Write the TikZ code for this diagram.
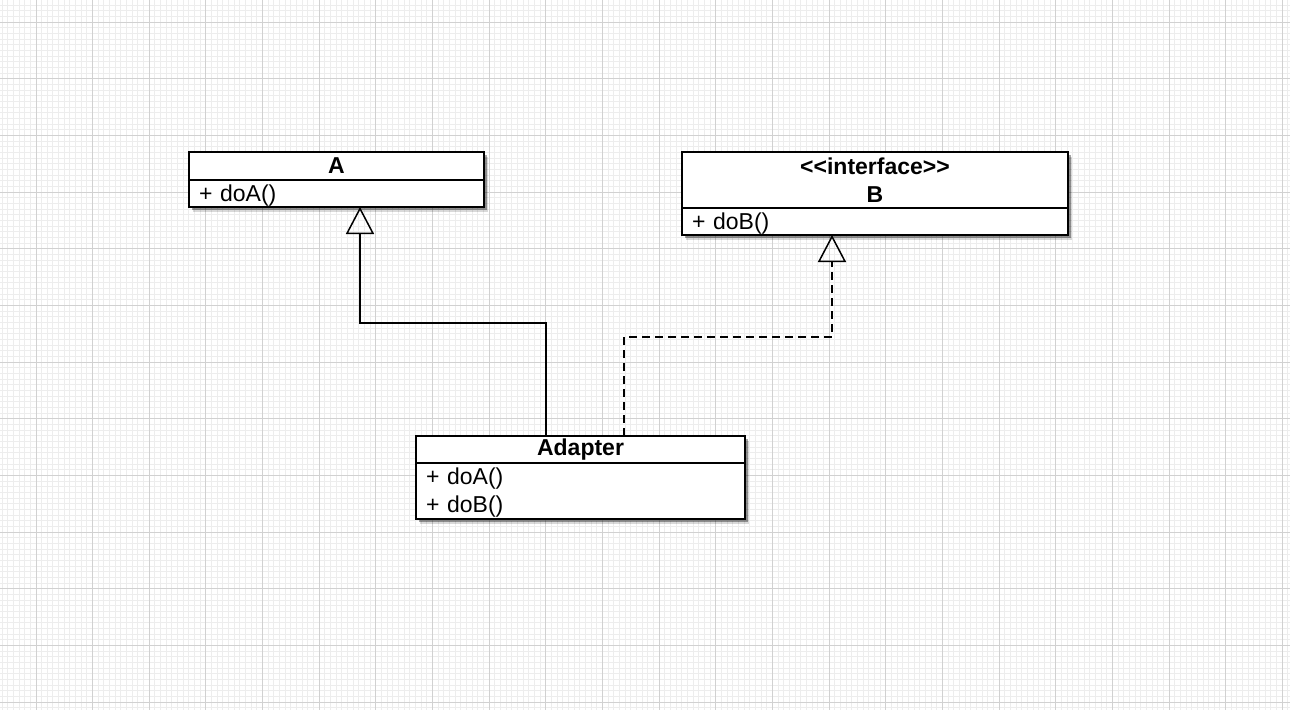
\documentclass[tikz,border=0pt]{standalone}
\usepackage{fontspec}
\setmainfont{Liberation Sans}
\usetikzlibrary{arrows.meta,shadows}

\begin{document}
\begin{tikzpicture}[
  x=1pt, y=-1pt,
  every node/.style={font=\fontsize{23}{28}\selectfont},
  minorgrid/.style={line width=1pt, black!7},
  majorgrid/.style={line width=1pt, black!18},
  umlshadow/.style={
    drop shadow={shadow xshift=4pt, shadow yshift=-5pt, opacity=0.15, fill=black},
    drop shadow={shadow xshift=2.5pt, shadow yshift=-3pt, opacity=0.35, fill=black}},
  classhead/.style={draw, line width=1.8pt, fill=white, umlshadow, outer sep=0pt, font=\fontsize{23}{28}\selectfont\bfseries, align=center, inner sep=0pt, anchor=north west},
  classbody/.style={draw, line width=1.8pt, fill=white, umlshadow, outer sep=0pt, align=left, inner xsep=10pt, inner ysep=0pt, anchor=north west},
  inherit/.style={line width=1.5pt, -{Triangle[open, length=27pt, width=28pt]}},
  realize/.style={inherit, dash pattern=on 8pt off 5pt}
]
\useasboundingbox (0,0) rectangle (1290,710);
\fill[white] (0,0) rectangle (1290,710);
\foreach \k in {-6,...,221} \draw[minorgrid] ({36+5.665*\k},0) -- ++(0,710);
\foreach \k in {-3,...,121} \draw[minorgrid] (0,{22.3+5.665*\k}) -- ++(1290,0);
\foreach \k in {0,...,22} \draw[majorgrid] ({36+56.65*\k},0) -- ++(0,710);
\foreach \k in {0,...,12} \draw[majorgrid] (0,{22.3+56.65*\k}) -- ++(1290,0);

\node[classhead, minimum width=295pt, minimum height=28pt] (A) at (189,152) {A};
\node[classbody, text width=275pt, minimum height=27pt, text depth=1.5pt] (A-ops) at (A.south west) {+ doA()};

\node[classhead, minimum width=386pt, minimum height=56pt] (B) at (682,152)
  {<\kern0pt<interface>\kern0pt>\\B};
\node[classbody, text width=366pt, minimum height=27pt, text depth=1.5pt] (B-ops) at (B.south west) {+ doB()};

\node[classhead, minimum width=329pt, minimum height=27pt] (Adapter) at (416,436) {Adapter};
\node[classbody, text width=309pt, minimum height=56pt, text depth=30pt] (Adapter-ops) at (Adapter.south west) {+ doA()\\+ doB()};

\draw[inherit] ([xshift=-34.5pt]Adapter.north) -- ++(0,-113) -| ([xshift=23.5pt]A-ops.south);
\draw[realize] ([xshift=43.5pt]Adapter.north) -- ++(0,-99) -| ([xshift=-43pt]B-ops.south);
\end{tikzpicture}
\end{document}
